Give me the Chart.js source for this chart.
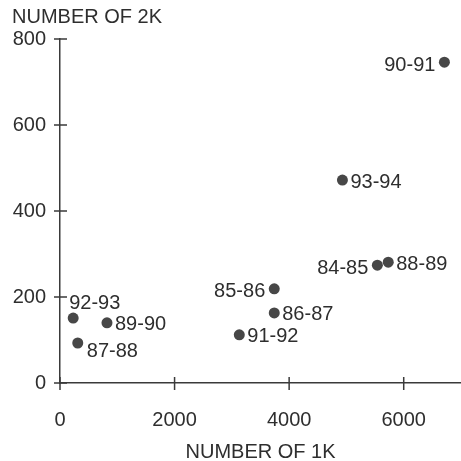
<!DOCTYPE html>
<html lang="en">
<head>
    <meta charset="UTF-8">
    <title>Number of 2K vs 1K</title>
    <script src="https://cdn.jsdelivr.net/npm/chart.js"></script>
    <style>
        html, body {
            margin: 0;
            padding: 0;
            background: #ffffff;
        }
        .chart-box {
            width: 461px;
            height: 461px;
        }
    </style>
</head>
<body>
<div class="chart-box">
    <canvas id="scatterChart"></canvas>
</div>

<script>
    // season labels and values
    const seasons = ['84-85', '85-86', '86-87', '87-88', '88-89', '89-90', '90-91', '91-92', '92-93', '93-94'];
    const num1K = [5540, 3740, 3740, 310, 5730, 820, 6710, 3130, 230, 4930];
    const num2K = [274, 219, 163, 93, 281, 140, 746, 112, 151, 472];
    // where each season label sits relative to its dot
    const labelSide = ['left', 'left', 'right', 'belowRight', 'right', 'right', 'left', 'right', 'above', 'right'];

    const xTicks = [0, 2000, 4000, 6000];
    const yTicks = [0, 200, 400, 600, 800];

    const FONT = { family: '"Liberation Sans", Arial, sans-serif', size: 20 };
    const TEXT = '#2e2e2e';
    const AXIS = '#3a3a3a';

    // scatter reserves room for point radius around the chart area; the x axis
    // should run right up to the canvas edge, so switch that off
    Chart.ScatterController.prototype.getMaxOverflow = function () { return false; };

    // ticks that cross the axis line on both sides
    const crossTicks = {
        id: 'crossTicks',
        afterDraw(chart) {
            const ctx = chart.ctx;
            const x = chart.scales.x;
            const y = chart.scales.y;
            const area = chart.chartArea;
            ctx.save();
            ctx.strokeStyle = AXIS;
            ctx.lineWidth = 1.5;
            ctx.beginPath();
            xTicks.forEach(v => {
                const px = x.getPixelForValue(v);
                ctx.moveTo(px, area.bottom - 6);
                ctx.lineTo(px, area.bottom + 7);
            });
            yTicks.forEach(v => {
                const py = y.getPixelForValue(v);
                ctx.moveTo(area.left - 6, py);
                ctx.lineTo(area.left + 7, py);
            });
            ctx.stroke();
            ctx.restore();
        }
    };

    const seasonLabels = {
        id: 'seasonLabels',
        afterDatasetsDraw(chart) {
            const ctx = chart.ctx;
            const meta = chart.getDatasetMeta(0);
            ctx.save();
            ctx.font = `${FONT.size}px ${FONT.family}`;
            ctx.fillStyle = TEXT;
            ctx.textBaseline = 'middle';
            meta.data.forEach((pt, i) => {
                const side = labelSide[i];
                let tx = pt.x, ty = pt.y;
                if (side === 'left') {
                    ctx.textAlign = 'right';
                    tx -= 9; ty += 3;
                } else if (side === 'right') {
                    ctx.textAlign = 'left';
                    tx += 8; ty += 2;
                } else if (side === 'above') {
                    ctx.textAlign = 'left';
                    tx -= 4; ty -= 15;
                } else {
                    ctx.textAlign = 'left';
                    tx += 9; ty += 8;
                }
                ctx.fillText(seasons[i], tx, ty);
            });
            ctx.restore();
        }
    };

    const ctx = document.getElementById('scatterChart').getContext('2d');

    new Chart(ctx, {
        type: 'scatter',
        data: {
            datasets: [{
                data: num1K.map((v, i) => ({ x: v, y: num2K[i] })),
                backgroundColor: '#474747',
                borderWidth: 0,
                pointRadius: 5.5,
                pointHoverRadius: 5.5,
                clip: false
            }]
        },
        options: {
            responsive: true,
            maintainAspectRatio: false,
            animation: false,
            layout: {
                padding: { left: 12, right: 0, top: 0, bottom: 0 }
            },
            plugins: {
                legend: { display: false },
                tooltip: { enabled: false },
                title: {
                    display: true,
                    text: 'NUMBER OF 2K',
                    align: 'start',
                    color: TEXT,
                    font: { family: FONT.family, size: 20, weight: 'normal' },
                    padding: { top: 5, bottom: 10 }
                }
            },
            scales: {
                x: {
                    type: 'linear',
                    min: 0,
                    max: 7000,
                    afterBuildTicks: s => { s.ticks = xTicks.map(v => ({ value: v })); },
                    afterFit: s => {
                        s.height = 78;
                        s.paddingRight = 0;
                    },
                    grid: { display: false, drawTicks: false },
                    border: { display: true, color: AXIS, width: 1.5 },
                    ticks: {
                        color: TEXT,
                        font: FONT,
                        padding: 25,
                        maxRotation: 0,
                        callback: v => String(v)
                    },
                    title: {
                        display: true,
                        text: 'NUMBER OF 1K',
                        color: TEXT,
                        font: FONT,
                        padding: { top: 0, bottom: -3 }
                    }
                },
                y: {
                    type: 'linear',
                    min: 0,
                    max: 800,
                    afterBuildTicks: s => { s.ticks = yTicks.map(v => ({ value: v })); },
                    afterFit: s => { s.width = 48; },
                    grid: { display: false, drawTicks: false },
                    border: { display: true, color: AXIS, width: 1.5 },
                    ticks: {
                        color: TEXT,
                        font: FONT,
                        padding: 14,
                        callback: v => String(v)
                    }
                }
            }
        },
        plugins: [crossTicks, seasonLabels]
    });
</script>
</body>
</html>
